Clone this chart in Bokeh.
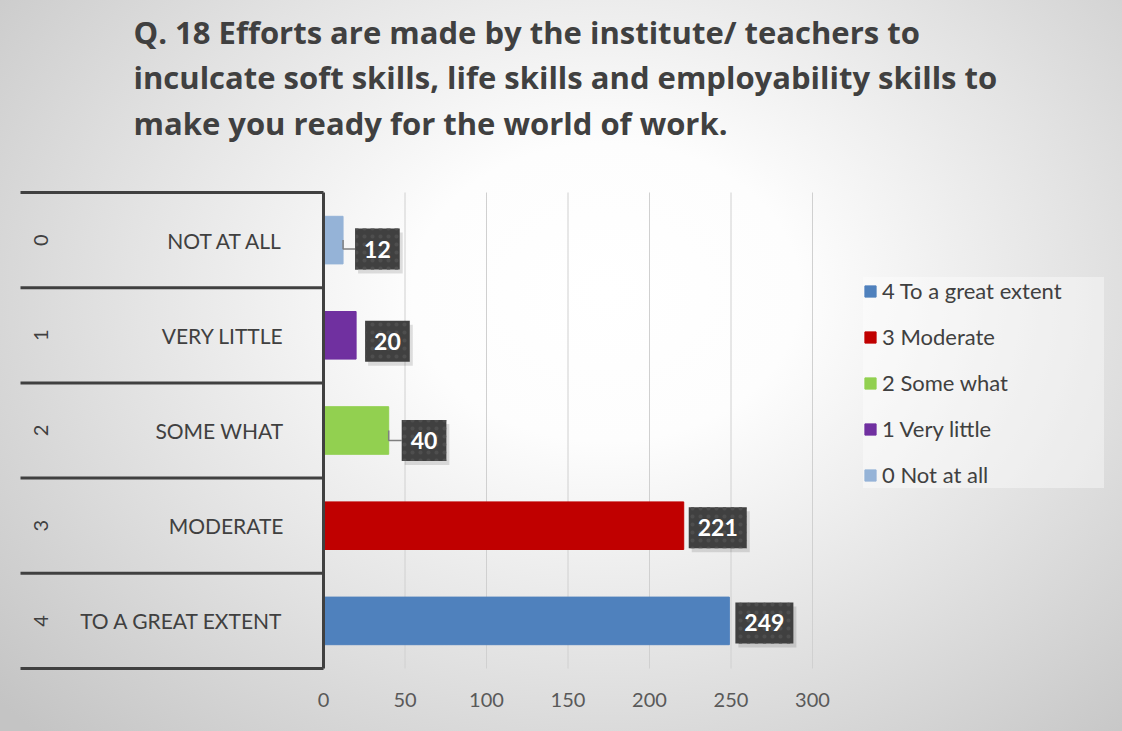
import math
from bokeh.plotting import figure
from bokeh.models import (ColumnDataSource, Range1d, FixedTicker, Label,
                          Legend, LegendItem)
from bokeh.core.properties import value
from bokeh.embed import file_html
from bokeh.resources import INLINE

# ---------------- data ----------------
codes = ["0", "1", "2", "3", "4"]
categories = ["NOT AT ALL", "VERY LITTLE", "SOME WHAT", "MODERATE", "TO A GREAT EXTENT"]
legend_labels = ["0 Not at all", "1 Very little", "2 Some what", "3 Moderate", "4 To a great extent"]
counts = [12, 20, 40, 221, 249]
x_ticks = [0, 50, 100, 150, 200, 250, 300]
title_lines = [
    "Q. 18 Efforts are made by the institute/ teachers to",
    "inculcate soft skills, life skills and employability skills to",
    "make you ready for the world of work.",
]

# ---------------- style ----------------
bar_colors = ["#95b3d7", "#7030a0", "#92d050", "#c00000", "#4f81bd"]
label_gap_px = [12, 9, 13, 5, 6]      # horizontal gap bar end -> label box
label_dy_px = [9, 6, 10, 2, 2]        # label box shift (down) from bar centre
leader = [True, False, True, False, False]
DARK = "#404040"
FONT = "Lato"
TITLE_FONT = "Open Sans"

W, H = 1122, 731
PX_PER_UNIT = 1.63     # px per count
CAT_PX = 95.2          # px per category band
ZERO_X = 323           # px of value 0
FRAME_L, FRAME_R = 6, 1120
FRAME_T, FRAME_B = 0, 670
BAND_TOP = 192
X0 = -(ZERO_X - FRAME_L) / PX_PER_UNIT
X1 = (FRAME_R - ZERO_X) / PX_PER_UNIT
Y_TOP = -(BAND_TOP - FRAME_T) / CAT_PX
Y_BOT = (FRAME_B - BAND_TOP) / CAT_PX
BOX_LEFT = -(ZERO_X - 20) / PX_PER_UNIT

p = figure(width=W, height=H, output_backend="svg", toolbar_location=None,
           x_range=Range1d(X0, X1), y_range=Range1d(Y_BOT, Y_TOP),
           y_axis_location=None,
           min_border_left=FRAME_L, min_border_right=W - FRAME_R,
           min_border_top=FRAME_T, min_border_bottom=H - FRAME_B)
p.background_fill_color = None
p.border_fill_color = None
p.outline_line_color = None
p.styles = {"background": "radial-gradient(ellipse 72% 85% at 54% 40%, #ffffff 0%, #fdfdfd 24%, #e4e4e4 58%, #c4c4c4 100%)"}

# axis (labels only)
p.xaxis.ticker = FixedTicker(ticks=x_ticks)
p.xgrid.grid_line_color = None
p.ygrid.grid_line_color = None
p.xaxis.axis_line_color = None
p.xaxis.major_tick_line_color = None
p.xaxis.minor_tick_line_color = None
p.xaxis.major_label_text_font = FONT
p.xaxis.major_label_text_font_size = "20px"
p.xaxis.major_label_text_color = "#595959"
p.xaxis.major_label_standoff = 16

n = len(categories)
ys = [i + 0.5 for i in range(n)]
src = ColumnDataSource(dict(y=ys, count=counts, color=bar_colors, cat=categories,
                            code=codes, txt=[str(c) for c in counts],
                            dx=label_gap_px, dy=label_dy_px,
                            sdx=[d + 3 for d in label_gap_px],
                            sdy=[d + 4 for d in label_dy_px],
                            zero=[0] * n))

# vertical gridlines at the ticks
p.segment(x0=x_ticks[1:], x1=x_ticks[1:], y0=[0] * (len(x_ticks) - 1),
          y1=[n] * (len(x_ticks) - 1), line_color="#d0d0d0", line_width=1)

bars = p.hbar(y="y", right="count", left=0, height=0.5, color="color", source=src)

# category boxes
bounds = list(range(n + 1))
p.segment(x0=[BOX_LEFT] * len(bounds), x1=[0] * len(bounds), y0=bounds, y1=bounds,
          line_color=DARK, line_width=3)
p.segment(x0=[0], x1=[0], y0=[0], y1=[n], line_color=DARK, line_width=3)

p.text(x="zero", y="y", text="cat", source=src, x_offset=-40,
       text_align="right", text_baseline="middle", text_font=value(FONT),
       text_font_size="21px", text_color=DARK)
p.text(x="zero", y="y", text="code", source=src, x_offset=-283, angle=math.pi / 2,
       text_align="center", text_baseline="middle", text_font=value(FONT),
       text_font_size="20px", text_color=DARK)

# leader lines
lx, ly = [], []
for i, c in enumerate(counts):
    if leader[i]:
        yy = ys[i] + label_dy_px[i] / CAT_PX
        lx.append([c, c, c + label_gap_px[i] / PX_PER_UNIT])
        ly.append([ys[i], yy, yy])
p.multi_line(xs=lx, ys=ly, line_color="#7f7f7f", line_width=1.5)

# data labels: soft shadow + dark box
common = dict(x="count", y="y", text="txt", source=src, text_align="left",
              text_baseline="middle", text_font=value(FONT), text_font_style="bold",
              text_font_size="23px", padding=(9, 12))
p.text(x_offset={"field": "sdx"}, y_offset={"field": "sdy"}, text_alpha=0,
       background_fill_color="#000000", background_fill_alpha=0.12, **common)
p.text(x_offset={"field": "dx"}, y_offset={"field": "dy"}, text_color="white",
       background_fill_color=DARK, background_hatch_pattern="dot",
       background_hatch_color="#4e4e4e", background_hatch_scale=8,
       background_hatch_weight=1, **common)

# legend (top item = last category)
items = [LegendItem(label=legend_labels[i], renderers=[bars], index=i)
         for i in reversed(range(n))]
legend = Legend(items=items, location=(863 - FRAME_L, 182),
                orientation="vertical",
                glyph_width=14, glyph_height=14, label_height=20, label_width=222,
                label_standoff=5, spacing=19, padding=11, margin=0,
                label_text_font=FONT, label_text_font_size="22px",
                label_text_color=DARK, background_fill_color="#ffffff",
                background_fill_alpha=0.4, border_line_color=None)
p.add_layout(legend, "center")

# title
for k, line in enumerate(title_lines):
    p.add_layout(Label(x=133 - FRAME_L, y=FRAME_B - 31 - 45.5 * k,
                       x_units="screen", y_units="screen",
                       text=line, text_font=TITLE_FONT, text_font_style="bold",
                       text_font_size="31px", text_color=DARK,
                       text_baseline="middle", text_align="left"))

open("out.html", "w").write(file_html(p, INLINE))
